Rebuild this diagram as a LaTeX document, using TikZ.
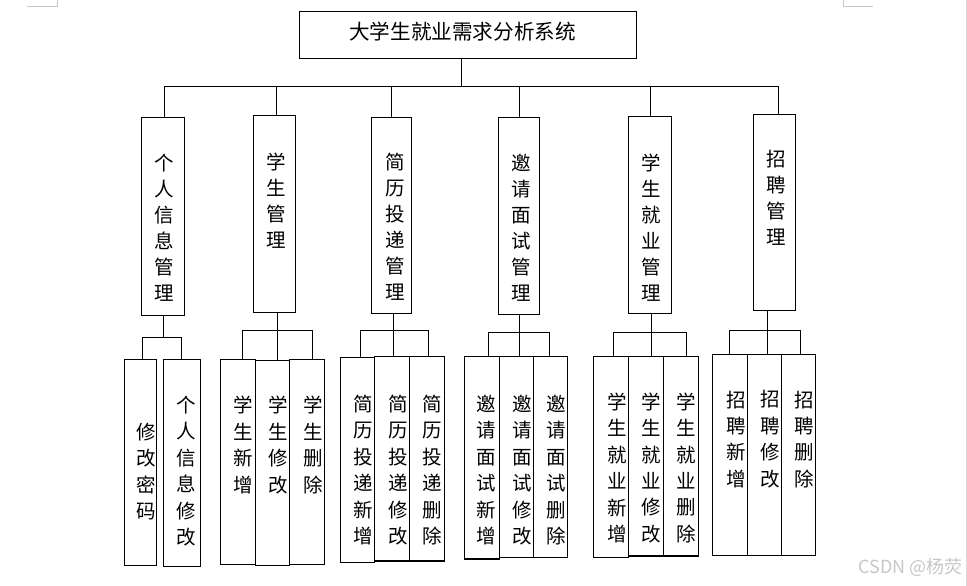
\documentclass[tikz,border=0pt]{standalone}
\usepackage{fontspec}
\newfontfamily\cjk{Noto Sans CJK SC}
\begin{document}
\begin{tikzpicture}[x=1pt,y=-1pt,
  box/.style={draw=black,line width=1.1pt,inner sep=0pt,outer sep=0pt},
  vtwo/.style={font=\cjk\fontsize{19.5}{26}\selectfont,align=center,inner sep=0pt},
  vthree/.style={font=\cjk\fontsize{19.5}{26.45}\selectfont,align=center,inner sep=0pt},
  conn/.style={line width=1.1pt,black}]
\useasboundingbox (0,0) rectangle (967,586);
% page marks
\draw[gray!45,line width=0.8pt] (27,6) -- (57,6) -- (57,0);
\draw[gray!45,line width=0.8pt] (843.3,0) -- (843.3,6) -- (873,6);
\draw[gray!30,line width=0.8pt] (966,0) -- (966,586);
% title
\node[box,minimum width=337.4pt,minimum height=47pt] (T) at (468,34.8) {};
\node[font=\cjk\fontsize{20.6}{24}\selectfont,inner sep=0pt] (TT) at (462.5,32) {大学生就业需求分析系统};
% level 2 boxes
\node[box,minimum width=43pt,minimum height=198pt] (L1) at (162.8,216.3) {};
\node[box,minimum width=41.6pt,minimum height=196.7pt] (L2) at (274.5,213.7) {};
\node[box,minimum width=40pt,minimum height=195.7pt] (L3) at (391.7,215.2) {};
\node[box,minimum width=41pt,minimum height=196.7pt] (L4) at (518.8,215.7) {};
\node[box,minimum width=43pt,minimum height=196.7pt] (L5) at (649.8,214.7) {};
\node[box,minimum width=42pt,minimum height=195.7pt] (L6) at (774.3,212.2) {};
\node[vtwo] (L1t) at (164.3,227.7) {个\\人\\信\\息\\管\\理};
\node[vtwo] (L2t) at (276.7,200.5) {学\\生\\管\\理};
\node[vtwo] (L3t) at (395,227.2) {简\\历\\投\\递\\管\\理};
\node[vtwo] (L4t) at (521.7,227.7) {邀\\请\\面\\试\\管\\理};
\node[vtwo] (L5t) at (651.7,227.2) {学\\生\\就\\业\\管\\理};
\node[vtwo] (L6t) at (776.7,198) {招\\聘\\管\\理};
% level 3 boxes
\node[box,minimum width=32pt,minimum height=206.4pt] (a) at (140.3,462.5) {};
\node[box,minimum width=37pt,minimum height=207.4pt] (b) at (181.8,463) {};
\node[box,minimum width=35pt,minimum height=205pt] (c) at (237.8,461.8) {};
\node[box,minimum width=34pt,minimum height=205.4pt] (d) at (272.3,463) {};
\node[box,minimum width=35pt,minimum height=205pt] (e) at (306.8,461.8) {};
\node[box,minimum width=33.6pt,minimum height=205pt] (f) at (357.5,459.8) {};
\node[box,minimum width=35pt,minimum height=204.3pt] (g) at (391.8,458.8) {};
\node[box,minimum width=35.4pt,minimum height=204.3pt] (h) at (427,458.8) {};
\node[box,minimum width=34.6pt,minimum height=202.3pt] (i) at (482,457.8) {};
\node[box,minimum width=34.4pt,minimum height=201pt] (j) at (516.5,457.2) {};
\node[box,minimum width=34pt,minimum height=201pt] (k) at (550.7,457.2) {};
\node[box,minimum width=35.4pt,minimum height=200.6pt] (l) at (611,457) {};
\node[box,minimum width=34.6pt,minimum height=199.3pt] (m) at (646,456.3) {};
\node[box,minimum width=35pt,minimum height=199.3pt] (n) at (680.8,456.3) {};
\node[box,minimum width=34.6pt,minimum height=201pt] (o) at (730,454.8) {};
\node[box,minimum width=34pt,minimum height=201pt] (p) at (764.3,454.8) {};
\node[box,minimum width=34.4pt,minimum height=201pt] (q) at (798.5,454.8) {};
% level 3 texts
\node[vthree] (at) at (146.7,471.5) {修\\改\\密\\码};
\node[vthree] (bt) at (186.7,471) {个\\人\\信\\息\\修\\改};
\node[vthree] (ct) at (243.3,445) {学\\生\\新\\增};
\node[vthree] (dt) at (278.3,445) {学\\生\\修\\改};
\node[vthree] (et) at (313.3,445) {学\\生\\删\\除};
\node[vthree] (ft) at (363.3,470.2) {简\\历\\投\\递\\新\\增};
\node[vthree] (gt) at (398.3,470.2) {简\\历\\投\\递\\修\\改};
\node[vthree] (ht) at (432.7,470.2) {简\\历\\投\\递\\删\\除};
\node[vthree] (it) at (486.7,470.2) {邀\\请\\面\\试\\新\\增};
\node[vthree] (jt) at (522.7,470.2) {邀\\请\\面\\试\\修\\改};
\node[vthree] (kt) at (556.7,470.2) {邀\\请\\面\\试\\删\\除};
\node[vthree] (lt) at (617.3,467.8) {学\\生\\就\\业\\新\\增};
\node[vthree] (mt) at (651.7,467.8) {学\\生\\就\\业\\修\\改};
\node[vthree] (nt) at (686.7,467.8) {学\\生\\就\\业\\删\\除};
\node[vthree] (ot) at (736,439.3) {招\\聘\\新\\增};
\node[vthree] (pt) at (770.7,439.3) {招\\聘\\修\\改};
\node[vthree] (qt) at (804.3,439.3) {招\\聘\\删\\除};
% connector points
\coordinate (bus) at (0,86.3);
\coordinate (g1) at (0,337.3);
\coordinate (g2) at (0,330.7);
\coordinate (g3) at (0,330.7);
\coordinate (g4) at (0,332.7);
\coordinate (g5) at (0,332.3);
\coordinate (g6) at (0,330.7);
\coordinate (Ts) at ([xshift=-6.3pt]T.south);
\coordinate (L1n) at ([xshift=1.5pt]L1.north);
\coordinate (L2n) at ([xshift=2pt]L2.north);
\coordinate (L3n) at (L3.north);
\coordinate (L4n) at ([xshift=0.5pt]L4.north);
\coordinate (L5n) at ([xshift=1pt]L5.north);
\coordinate (L6n) at ([xshift=4pt]L6.north);
\coordinate (L1s) at ([xshift=0.5pt]L1.south);
\coordinate (L2s) at ([xshift=2.8pt]L2.south);
\coordinate (L3s) at ([xshift=1.6pt]L3.south);
\coordinate (L4s) at ([xshift=0.5pt]L4.south);
\coordinate (L5s) at ([xshift=1.5pt]L5.south);
\coordinate (L6s) at ([xshift=-7pt]L6.south);
\coordinate (an) at ([xshift=2pt]a.north);
\coordinate (bn) at ([xshift=-0.5pt]b.north);
\coordinate (cn) at ([xshift=4.5pt]c.north);
\coordinate (dn) at ([xshift=5pt]d.north);
\coordinate (en) at ([xshift=5.5pt]e.north);
\coordinate (fn) at ([xshift=3.2pt]f.north);
\coordinate (gn) at ([xshift=1.5pt]g.north);
\coordinate (hn) at ([xshift=1.3pt]h.north);
\coordinate (in) at ([xshift=6.3pt]i.north);
\coordinate (jn) at ([xshift=2.8pt]j.north);
\coordinate (kn) at ([xshift=-1.4pt]k.north);
\coordinate (ln) at ([xshift=2.3pt]l.north);
\coordinate (mn) at ([xshift=5.3pt]m.north);
\coordinate (nn) at ([xshift=5.5pt]n.north);
\coordinate (on) at ([xshift=-0.7pt]o.north);
\coordinate (pn) at ([xshift=3pt]p.north);
\coordinate (qn) at ([xshift=2.2pt]q.north);
% top connectors
\draw[conn] (Ts) -- (Ts |- bus);
\draw[conn] (L1n |- bus) -- (L6n |- bus);
\foreach \k in {L1n,L2n,L3n,L4n,L5n,L6n} \draw[conn] (\k) -- (\k |- bus);
% group 1
\draw[conn] (L1s) -- (L1s |- g1);
\draw[conn] (an) -- (an |- g1) -- (bn |- g1) -- (bn);
% group 2
\draw[conn] (L2s) -- (dn);
\draw[conn] (cn) -- (cn |- g2) -- (en |- g2) -- (en);
% group 3
\draw[conn] (L3s) -- (gn);
\draw[conn] (fn) -- (fn |- g3) -- (hn |- g3) -- (hn);
% group 4
\draw[conn] (L4s) -- (jn);
\draw[conn] (in) -- (in |- g4) -- (kn |- g4) -- (kn);
% group 5
\draw[conn] (L5s) -- (mn);
\draw[conn] (ln) -- (ln |- g5) -- (nn |- g5) -- (nn);
% group 6
\draw[conn] (L6s) -- (pn);
\draw[conn] (on) -- (on |- g6) -- (qn |- g6) -- (qn);
% watermark
\node[font=\cjk\fontsize{18}{20}\selectfont,text=gray!45,inner sep=0pt] (wm) at (910.5,567) {CSDN @杨荧};
\end{tikzpicture}
\end{document}
